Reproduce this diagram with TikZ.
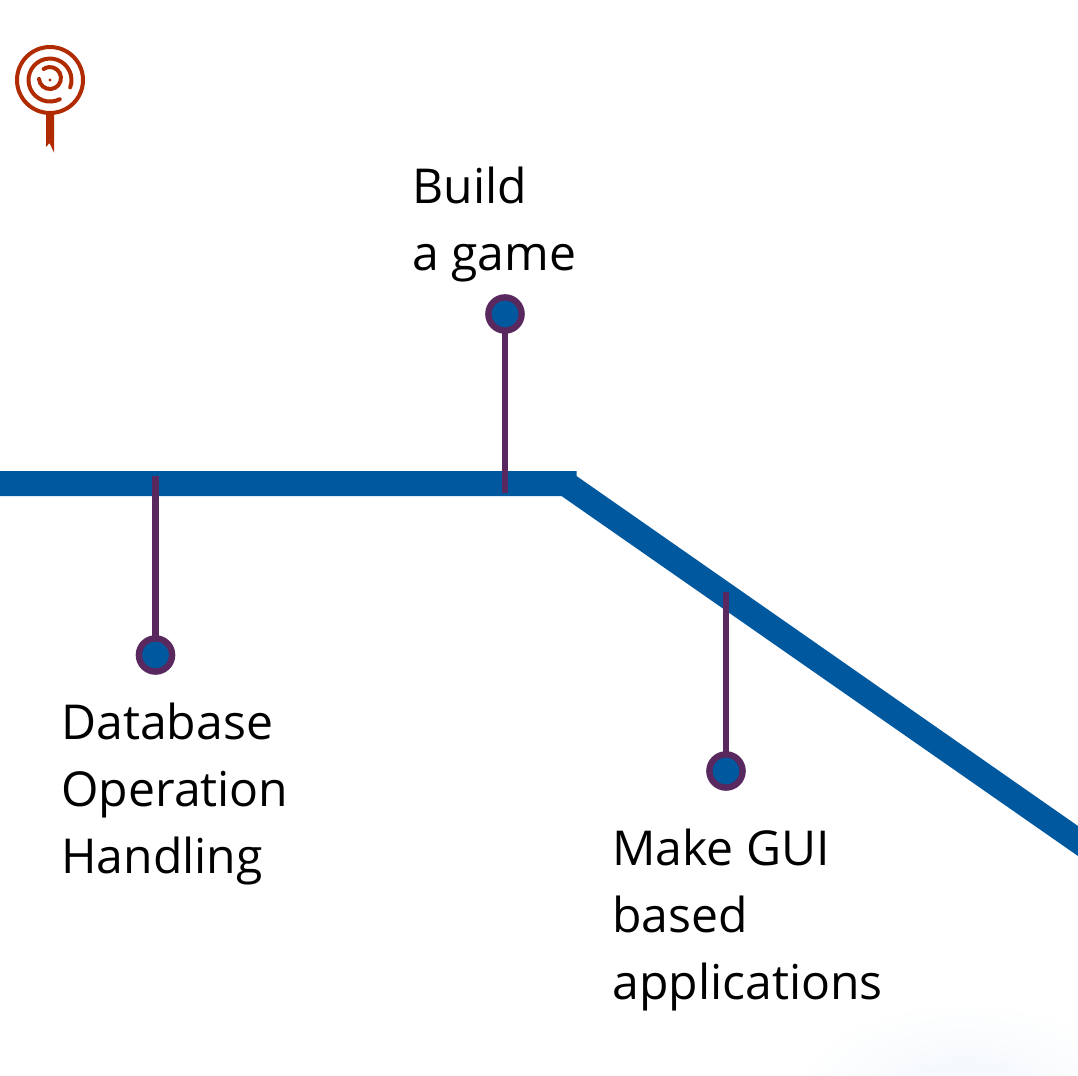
\documentclass[tikz,border=0pt]{standalone}
\usepackage{fontspec}
\setmainfont{Open Sans}
\definecolor{roadblue}{HTML}{00589F}
\definecolor{pinpurple}{HTML}{59285F}
\definecolor{logored}{HTML}{B02C00}
\definecolor{glowblue}{HTML}{F1F6FB}
\tikzset{
  pin/.style={circle,draw=pinpurple,fill=roadblue,line width=3.2pt,minimum size=16.6pt,inner sep=0pt,outer sep=0pt},
  stem/.style={draw=pinpurple,line width=3.3pt},
  caption/.style={anchor=north west,align=left,inner sep=0pt,font=\fontsize{24.05}{33.5}\selectfont},
  logoline/.style={draw=logored,line width=2pt,line cap=round}
}
\begin{document}
\begin{tikzpicture}[x=0.5pt,y=-0.5pt]
\useasboundingbox (0,0) rectangle (1078,1076);

\begin{scope}
\clip (0,0) rectangle (1078,1076);
\fill[white] (0,0) rectangle (1078,1076);
\shade[inner color=glowblue,outer color=white] (965,1100) ellipse [x radius=175, y radius=100];
\end{scope}

\fill[roadblue] (0,471) -- (576.5,471) -- (576.5,476) -- (1078,826) -- (1078,856) -- (561.5,496) -- (0,496) -- cycle;

\node[pin] (pinA) at (155.5,655) {};
\node[pin] (pinB) at (505,314) {};
\node[pin] (pinC) at (726,771) {};
\coordinate (roadA) at (155.5,476);
\coordinate (roadB) at (505,493);
\coordinate (roadC) at (726,592);
\draw[stem] (pinA) -- (roadA);
\draw[stem] (pinB) -- (roadB);
\draw[stem] (pinC) -- (roadC);

\node[caption] (textA) at (61,703) {Database\\Operation\\Handling};
\node[caption] (textB) at (412,167) {Build\\a game};
\node[caption] (textC) at (612,829) {Make GUI\\based\\applications};

\draw[logoline] (50,80) circle[radius=33];
\draw[logoline] (70.2,87.4) arc[start angle=20,end angle=-297,radius=21.5];
\draw[logoline] (39,79) arc[start angle=175,end angle=-125,radius=11];
\fill[logored] (50,80) circle[radius=1.6];
\fill[logored] (46,114) -- (54,114) -- (54,152.5) -- (49.5,143) -- (46,147) -- cycle;

\end{tikzpicture}
\end{document}
